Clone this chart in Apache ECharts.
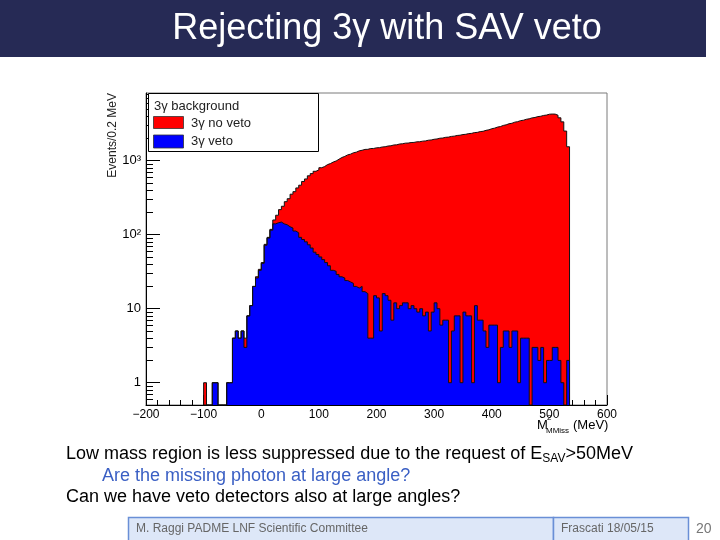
<!DOCTYPE html>
<html>
<head>
<meta charset="utf-8">
<title>Rejecting 3γ with SAV veto</title>
<script src="https://cdn.jsdelivr.net/npm/echarts@6/dist/echarts.min.js"></script>
<style>
  html, body { margin: 0; padding: 0; background: #fff; }
  #chart { width: 720px; height: 540px; }
</style>
</head>
<body>
<div id="chart"></div>
<script>
// histogram binning: 5 MeV bins, first bin starts at -100 MeV
var binStart = -100;
var binWidth = 5;

// 3γ no veto (red), counts per bin
var noVeto = [
  1, 0, 0, 1, 1, 0, 0, 0, 1, 1,
  4, 5, 4, 5, 4, 8, 11, 20, 27, 34,
  42, 74, 92, 118, 158, 183, 218, 242, 279, 306,
  352, 381, 428, 466, 523, 566, 624, 668, 718, 751,
  803, 832, 884, 912, 958, 990, 1046, 1103, 1142, 1196,
  1224, 1277, 1302, 1356, 1381, 1418, 1422, 1458, 1461, 1490,
  1498, 1530, 1541, 1576, 1588, 1627, 1636, 1677, 1690, 1722,
  1728, 1756, 1763, 1795, 1801, 1832, 1846, 1887, 1902, 1944,
  1962, 2008, 2021, 2066, 2079, 2125, 2143, 2189, 2206, 2251,
  2270, 2318, 2336, 2391, 2410, 2468, 2492, 2566, 2610, 2697,
  2748, 2839, 2886, 2990, 3046, 3151, 3198, 3310, 3362, 3471,
  3515, 3620, 3676, 3781, 3829, 3934, 3978, 4082, 4126, 4238,
  4262, 4251, 4107, 3790, 3340, 2510, 1540
];

// 3γ veto (blue), counts per bin
var veto = [
  0, 0, 0, 1, 1, 0, 0, 0, 1, 1,
  4, 5, 4, 5, 3, 8, 11, 20, 26, 33,
  41, 72, 90, 115, 140, 145, 148, 140, 136, 128,
  123, 112, 106, 92, 86, 80, 73, 66, 58, 54,
  50, 46, 42, 38, 33, 32, 29, 27, 26, 24,
  23, 22, 20, 19, 20, 17, 16, 4, 4, 15,
  14, 5, 16, 15, 13, 7, 12, 10, 11, 12,
  12, 10, 11, 10, 9, 10, 8, 9, 5, 9,
  12, 10, 6, 7, 7, 1, 5, 8, 8, 1,
  9, 8, 8, 1, 11, 7, 7, 5, 3, 6,
  6, 6, 1, 3, 5, 5, 3, 5, 5, 1,
  4, 4, 4, 0, 3, 3, 2, 3, 1, 2,
  2, 3, 3, 2, 1, 0, 2
];

var yMin = 0.5;
var yMax = 8200;
var yTickValues = [1, 10, 100, 1000];
var yTickLabels = ['1', '10', '10²', '10³'];
var yMinorTicks = [0.6, 0.7, 0.8, 0.9, 2, 3, 4, 5, 6, 7, 8, 9,
  20, 30, 40, 50, 60, 70, 80, 90, 200, 300, 400, 500, 600, 700, 800, 900,
  2000, 3000, 4000, 5000, 6000, 7000, 8000];

var FONT = '"Liberation Sans", Arial, Helvetica, sans-serif';

// step outline points at bin edges; empty bins sit on the axis floor
function histPoints(counts) {
  var pts = [[binStart, yMin]];
  for (var i = 0; i < counts.length; i++) {
    pts.push([binStart + i * binWidth, Math.max(counts[i], yMin)]);
  }
  pts.push([binStart + counts.length * binWidth, yMin]);
  return pts;
}

function yLabel(v) {
  for (var i = 0; i < yTickValues.length; i++) {
    if (Math.abs(Math.log10(v) - Math.log10(yTickValues[i])) < 1e-6) return yTickLabels[i];
  }
  return '';
}

var chart = echarts.init(document.getElementById('chart'));

var option = {
  animation: false,
  backgroundColor: '#fff',
  grid: {
    left: 146, top: 93, width: 461, height: 312,
    show: true, borderColor: '#7a7a7a', borderWidth: 1, backgroundColor: '#fff'
  },
  xAxis: {
    type: 'value', min: -200, max: 600, interval: 100,
    axisLine: { onZero: false, lineStyle: { color: '#000', width: 1 } },
    axisTick: { inside: true, length: 10, lineStyle: { color: '#000' } },
    minorTick: { show: true, splitNumber: 5, length: 5, lineStyle: { color: '#000' } },
    splitLine: { show: false },
    minorSplitLine: { show: false },
    axisLabel: {
      color: '#000', fontSize: 12, fontFamily: FONT, margin: 4,
      formatter: function (v) { return String(v).replace('-', '−'); }
    }
  },
  yAxis: [
    {
      type: 'log', logBase: 10, min: yMin, max: yMax, position: 'left',
      axisLine: { show: true, onZero: false, lineStyle: { color: '#000', width: 1 } },
      axisTick: { show: true, inside: true, length: 14, customValues: yTickValues, lineStyle: { color: '#000' } },
      axisLabel: { customValues: yTickValues, formatter: yLabel, color: '#000', fontSize: 13, fontFamily: FONT, margin: 5 },
      splitLine: { show: false }
    },
    {
      type: 'log', logBase: 10, min: yMin, max: yMax, position: 'left',
      axisLine: { show: false, onZero: false },
      axisTick: { show: true, inside: true, length: 7, customValues: yMinorTicks, lineStyle: { color: '#000' } },
      axisLabel: { show: false },
      splitLine: { show: false }
    }
  ],
  series: [
    {
      name: '3γ no veto', type: 'line', step: 'end', symbol: 'none',
      data: histPoints(noVeto),
      itemStyle: { color: '#ff0000' },
      lineStyle: { color: '#111', width: 1 },
      areaStyle: { color: '#ff0000', opacity: 1, origin: 'start' }
    },
    {
      name: '3γ veto', type: 'line', step: 'end', symbol: 'none',
      data: histPoints(veto),
      itemStyle: { color: '#0000ff' },
      lineStyle: { color: '#111', width: 1 },
      areaStyle: { color: '#0000ff', opacity: 1, origin: 'start' }
    }
  ],
  graphic: [
    // slide title bar
    { type: 'rect', shape: { x: 0, y: 0, width: 706, height: 57 }, style: { fill: '#262a55' } },
    { type: 'text', x: 387, y: 29, style: { text: 'Rejecting 3γ with SAV veto', fill: '#fff', font: '36px ' + FONT, textAlign: 'center', textVerticalAlign: 'middle' } },

    // legend box
    { type: 'rect', z: 10, shape: { x: 148.5, y: 93.5, width: 170, height: 58 }, style: { fill: '#fff', stroke: '#000', lineWidth: 1 } },
    { type: 'text', z: 11, x: 154, y: 106, style: { text: '3γ background', fill: '#222', font: '13px ' + FONT, textVerticalAlign: 'middle' } },
    { type: 'rect', z: 11, shape: { x: 153.5, y: 116.5, width: 30, height: 12 }, style: { fill: '#ff0000', stroke: '#333', lineWidth: 0.8 } },
    { type: 'text', z: 11, x: 191, y: 123, style: { text: '3γ no veto', fill: '#222', font: '13px ' + FONT, textVerticalAlign: 'middle' } },
    { type: 'rect', z: 11, shape: { x: 153.5, y: 135, width: 30, height: 13 }, style: { fill: '#0000ff', stroke: '#333', lineWidth: 0.8 } },
    { type: 'text', z: 11, x: 191, y: 141, style: { text: '3γ veto', fill: '#222', font: '13px ' + FONT, textVerticalAlign: 'middle' } },

    // axis titles
    { type: 'text', x: 113, y: 93, rotation: Math.PI / 2, style: { text: 'Events/0.2 MeV', fill: '#222', font: '12px ' + FONT, textAlign: 'right', textVerticalAlign: 'middle' } },
    { type: 'text', x: 537, y: 425, style: { text: 'M', fill: '#000', font: '13px ' + FONT, textVerticalAlign: 'middle' } },
    { type: 'text', x: 547, y: 418, style: { text: '2', fill: '#000', font: '8px ' + FONT, textVerticalAlign: 'middle' } },
    { type: 'text', x: 546, y: 431, style: { text: 'MMiss', fill: '#000', font: '8px ' + FONT, textVerticalAlign: 'middle' } },
    { type: 'text', x: 573, y: 425, style: { text: '(MeV)', fill: '#000', font: '13px ' + FONT, textVerticalAlign: 'middle' } },

    // slide text
    {
      type: 'text', x: 66, y: 454,
      style: {
        text: 'Low mass region is less suppressed due to the request of E{sub|SAV}>50MeV',
        fill: '#000', font: '18px ' + FONT, textVerticalAlign: 'middle', lineHeight: 22,
        rich: { sub: { fontSize: 12, fontFamily: FONT, fill: '#000', lineHeight: 12, verticalAlign: 'bottom' } }
      }
    },
    { type: 'text', x: 102, y: 476, style: { text: 'Are the missing photon at large angle?', fill: '#3a5fc4', font: '18px ' + FONT, textVerticalAlign: 'middle' } },
    { type: 'text', x: 66, y: 497, style: { text: 'Can we have veto detectors also at large angles?', fill: '#000', font: '18px ' + FONT, textVerticalAlign: 'middle' } },

    // footer
    { type: 'rect', shape: { x: 128.5, y: 517.5, width: 425, height: 30 }, style: { fill: '#dde7f8', stroke: '#6a8fd6', lineWidth: 1.5 } },
    { type: 'rect', shape: { x: 553.5, y: 517.5, width: 135, height: 30 }, style: { fill: '#dde7f8', stroke: '#6a8fd6', lineWidth: 1.5 } },
    { type: 'text', x: 136, y: 529, style: { text: 'M. Raggi PADME LNF Scientific Committee', fill: '#666', font: '12px ' + FONT, textVerticalAlign: 'middle' } },
    { type: 'text', x: 561, y: 529, style: { text: 'Frascati 18/05/15', fill: '#666', font: '12px ' + FONT, textVerticalAlign: 'middle' } },
    { type: 'text', x: 696, y: 529, style: { text: '20', fill: '#777', font: '14px ' + FONT, textVerticalAlign: 'middle' } }
  ]
};

chart.setOption(option);
</script>
</body>
</html>
